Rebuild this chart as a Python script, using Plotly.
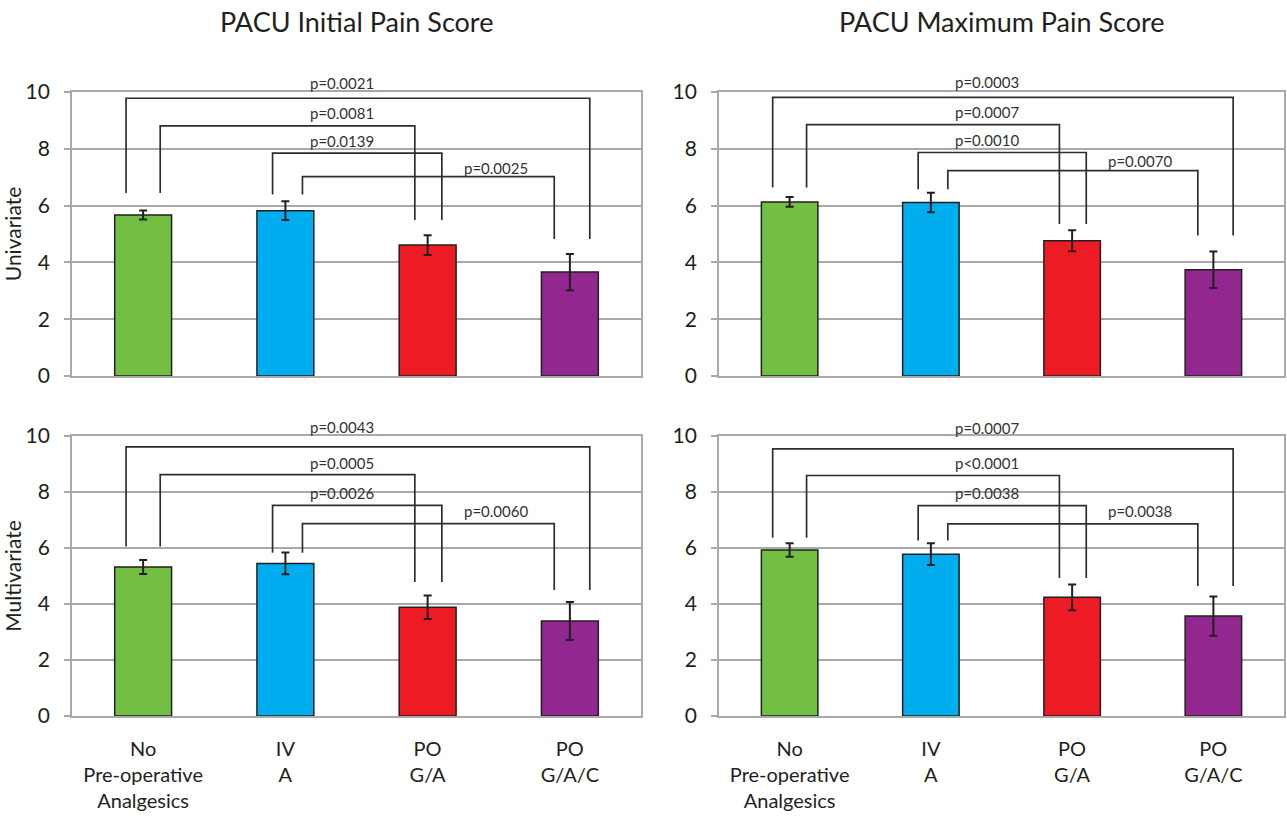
import plotly.graph_objects as go
from plotly.subplots import make_subplots

# ---------------- data ----------------
categories = ["No<br>Pre-operative<br>Analgesics", "IV<br>A", "PO<br>G/A", "PO<br>G/A/C"]
bar_colors = ["#72BF44", "#00AEEF", "#ED1C24", "#92278F"]

col_titles = ["PACU Initial Pain Score", "PACU Maximum Pain Score"]
row_titles = ["Univariate", "Multivariate"]

# Mean pain scores and error (+/-)
initial_uni = [5.67, 5.82, 4.61, 3.66]
initial_uni_err = [0.16, 0.33, 0.35, 0.64]
maximum_uni = [6.13, 6.11, 4.76, 3.74]
maximum_uni_err = [0.17, 0.34, 0.37, 0.64]
initial_multi = [5.32, 5.45, 3.88, 3.39]
initial_multi_err = [0.25, 0.39, 0.42, 0.68]
maximum_multi = [5.93, 5.78, 4.24, 3.57]
maximum_multi_err = [0.24, 0.39, 0.46, 0.70]

# Significance brackets: compared pairs (same in every panel)
bracket_pairs = [(0, 3), (0, 2), (1, 2), (1, 3)]
bracket_left_off = [-0.12, 0.12, -0.09, 0.12]
bracket_right_off = [0.14, -0.09, 0.10, -0.11]
bracket_label_x = [1.40, 1.40, 1.40, 2.48]

initial_uni_p = ["p=0.0021", "p=0.0081", "p=0.0139", "p=0.0025"]
initial_uni_level = [9.78, 8.81, 7.85, 7.02]
initial_uni_leftend = [6.44, 6.44, 6.39, 6.39]
initial_uni_rightend = [4.82, 5.49, 5.49, 4.82]
initial_uni_labely = [10.30, 9.26, 8.29, 7.33]

maximum_uni_p = ["p=0.0003", "p=0.0007", "p=0.0010", "p=0.0070"]
maximum_uni_level = [9.81, 8.85, 7.87, 7.23]
maximum_uni_leftend = [6.64, 6.64, 6.58, 6.58]
maximum_uni_rightend = [4.95, 5.35, 5.35, 4.95]
maximum_uni_labely = [10.34, 9.28, 8.32, 7.58]

initial_multi_p = ["p=0.0043", "p=0.0005", "p=0.0026", "p=0.0060"]
initial_multi_level = [9.61, 8.62, 7.52, 6.87]
initial_multi_leftend = [6.05, 6.05, 5.83, 5.83]
initial_multi_rightend = [4.50, 4.79, 4.79, 4.50]
initial_multi_labely = [10.32, 9.05, 7.98, 7.32]

maximum_multi_p = ["p=0.0007", "p<0.0001", "p=0.0038", "p=0.0038"]
maximum_multi_level = [9.54, 8.59, 7.51, 6.86]
maximum_multi_leftend = [6.37, 6.37, 6.27, 6.27]
maximum_multi_rightend = [4.64, 4.93, 4.93, 4.64]
maximum_multi_labely = [10.27, 9.02, 7.95, 7.31]

panels = [
    (1, 1, initial_uni, initial_uni_err, initial_uni_p, initial_uni_level,
     initial_uni_leftend, initial_uni_rightend, initial_uni_labely),
    (1, 2, maximum_uni, maximum_uni_err, maximum_uni_p, maximum_uni_level,
     maximum_uni_leftend, maximum_uni_rightend, maximum_uni_labely),
    (2, 1, initial_multi, initial_multi_err, initial_multi_p, initial_multi_level,
     initial_multi_leftend, initial_multi_rightend, initial_multi_labely),
    (2, 2, maximum_multi, maximum_multi_err, maximum_multi_p, maximum_multi_level,
     maximum_multi_leftend, maximum_multi_rightend, maximum_multi_labely),
]

# ---------------- figure ----------------
W, H = 1287, 818
ML, MR, MT, MB = 40, 2, 60, 100
IW, IH = W - ML - MR, H - MT - MB
FONT = "Lato, 'Open Sans', sans-serif"
INK = "#231f20"
GRID = "#a9a9a9"


def xdom(p0, p1):
    return [(p0 - ML) / IW, (p1 - ML) / IW]


def ydom(ptop, pbot):
    return [1 - (pbot - MT) / IH, 1 - (ptop - MT) / IH]


xd_left = xdom(72, 641)
xd_right = xdom(719, 1284)
yd_top = ydom(92, 376)
yd_bot = ydom(436, 716)
ppu = {1: (376 - 92) / 10, 2: (716 - 436) / 10}

fig = make_subplots(rows=2, cols=2)

xpos = list(range(len(categories)))

for (r, c, vals, errs, plabels, levels, lend, rend, laby) in panels:
    fig.add_trace(go.Bar(
        x=xpos, y=vals, width=0.4,
        marker=dict(color=bar_colors, line=dict(color=INK, width=1.5)),
        error_y=dict(type="data", array=errs, visible=True, color=INK,
                     thickness=2, width=4),
        showlegend=False, hoverinfo="y",
    ), row=r, col=c)
    idx = (r - 1) * 2 + c
    xr = "x" if idx == 1 else f"x{idx}"
    yr = "y" if idx == 1 else f"y{idx}"
    for k, (a, b) in enumerate(bracket_pairs):
        xl = a + bracket_left_off[k]
        xrr = b + bracket_right_off[k]
        fig.add_shape(
            type="path",
            path=f"M {xl},{lend[k]} L {xl},{levels[k]} L {xrr},{levels[k]} L {xrr},{rend[k]}",
            xref=xr, yref=yr, line=dict(color="#2e2e2e", width=1.7), layer="above",
        )
        fig.add_annotation(
            x=bracket_label_x[k], y=levels[k], xref=xr, yref=yr, text=plabels[k],
            yshift=(laby[k] - levels[k]) * ppu[r],
            showarrow=False, font=dict(family=FONT, size=15, color="#333333"),
            yanchor="middle", xanchor="center",
        )

axis_common_x = dict(range=[-0.5, 3.5], showgrid=False, zeroline=False,
                     showline=True, linecolor=GRID, linewidth=1.8, mirror=True,
                     ticks="", tickvals=xpos, ticktext=categories, automargin=False,
                     tickfont=dict(family=FONT, size=20, color=INK))
axis_common_y = dict(range=[0, 10], dtick=2, tick0=0, showgrid=True,
                     gridcolor=GRID, gridwidth=1.8, zeroline=False,
                     showline=True, linecolor=GRID, linewidth=1.8, mirror=True,
                     ticks="outside", ticklen=6, tickcolor=GRID, tickwidth=1.8,
                     automargin=False,
                     tickfont=dict(family=FONT, size=21, color=INK),
                     ticklabelstandoff=10)

fig.update_layout(
    xaxis=dict(axis_common_x, domain=xd_left, showticklabels=False),
    xaxis2=dict(axis_common_x, domain=xd_right, showticklabels=False),
    xaxis3=dict(axis_common_x, domain=xd_left, showticklabels=True, ticklabelstandoff=14),
    xaxis4=dict(axis_common_x, domain=xd_right, showticklabels=True, ticklabelstandoff=14),
    yaxis=dict(axis_common_y, domain=yd_top,
               title=dict(text=row_titles[0], standoff=1,
                          font=dict(family=FONT, size=21, color=INK))),
    yaxis2=dict(axis_common_y, domain=yd_top),
    yaxis3=dict(axis_common_y, domain=yd_bot,
                title=dict(text=row_titles[1], standoff=1,
                           font=dict(family=FONT, size=21, color=INK))),
    yaxis4=dict(axis_common_y, domain=yd_bot),
    width=W, height=H,
    margin=dict(l=ML, r=MR, t=MT, b=MB, autoexpand=False),
    paper_bgcolor="white", plot_bgcolor="white",
    font=dict(family=FONT, color=INK),
)

# column titles
for i, t in enumerate(col_titles):
    xd = xd_left if i == 0 else xd_right
    fig.add_annotation(
        x=(xd[0] + xd[1]) / 2, y=1 + (MT - 22) / IH, xref="paper", yref="paper",
        text=t, showarrow=False, font=dict(family=FONT, size=27, color=INK),
        xanchor="center", yanchor="middle",
    )

fig.write_html("out.html", config={"displayModeBar": False},
               post_script="document.body.style.margin='0';document.body.style.padding='0';")
